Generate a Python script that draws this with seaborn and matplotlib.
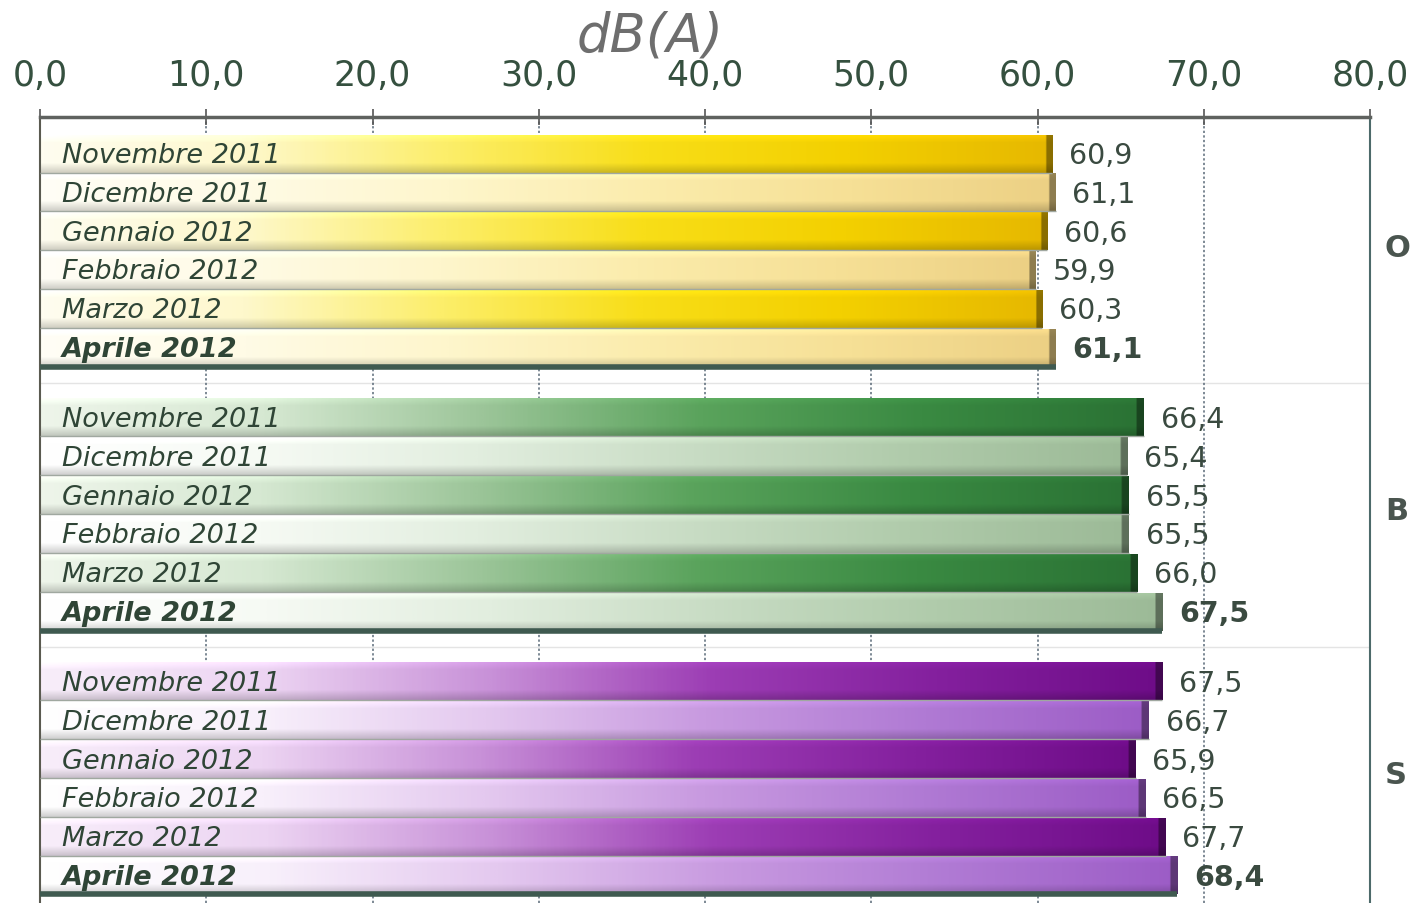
import numpy as np
import pandas as pd
import matplotlib.pyplot as plt
from matplotlib.colors import LinearSegmentedColormap
import seaborn as sns

# dati
mesi = ['Novembre 2011', 'Dicembre 2011', 'Gennaio 2012',
        'Febbraio 2012', 'Marzo 2012', 'Aprile 2012']
gruppi = ['O', 'B', 'S']
valori_o = [60.9, 61.1, 60.6, 59.9, 60.3, 61.1]
valori_b = [66.4, 65.4, 65.5, 65.5, 66.0, 67.5]
valori_s = [67.5, 66.7, 65.9, 66.5, 67.7, 68.4]
x_ticks = [0, 10, 20, 30, 40, 50, 60, 70, 80]

# colori sfumati (bianco -> colore), righe alterne piene / chiare
stops_pieni = {
    'O': ['#fffdf0', '#fef8cc', '#fcee6a', '#f8de18', '#f3d000', '#e6b800'],
    'B': ['#eef5ea', '#d6e8d2', '#9cc599', '#5aa35c', '#3a8a42', '#2a7234'],
    'S': ['#f8eefa', '#ecd4f2', '#c891d8', '#9c3db4', '#84209e', '#6e0c88'],
}
stops_chiari = {
    'O': ['#fffef6', '#fffbe6', '#fef6cc', '#fbecac', '#f6e096', '#ecd084'],
    'B': ['#ffffff', '#f6faf4', '#e2eedf', '#c8dcc4', '#b0cbab', '#9cba97'],
    'S': ['#ffffff', '#f8f0fb', '#e4c9ef', '#c89ae0', '#b07ad4', '#9c5cc6'],
}

passo_gruppo = 6.8
righe = []
for g, (nome, vals) in enumerate(zip(gruppi, [valori_o, valori_b, valori_s])):
    for i, (m, v) in enumerate(zip(mesi, vals)):
        righe.append({'gruppo': nome, 'mese': m, 'valore': v,
                      'riga': i, 'pos': g * passo_gruppo + i})
df = pd.DataFrame(righe)

sns.set_style('white')
plt.rcParams['font.family'] = ['DejaVu Sans']

fig = plt.figure(figsize=(14.13, 9.04), dpi=100)
ax = fig.add_axes([40 / 1413, 0.0, 1330 / 1413, 1 - 118 / 904])

sns.barplot(data=df, x='valore', y='pos', orient='h', native_scale=True,
            width=0.96, color='white', errorbar=None, ax=ax)

ylim = (19.3, -0.95)
xlim = (0, 80)

ombra = np.concatenate([np.linspace(1.07, 1.0, 6), np.ones(14), np.linspace(1.0, 0.82, 8)])
for p in list(ax.patches):
    x0, y0, w, h = p.get_x(), p.get_y(), p.get_width(), p.get_height()
    yc = y0 + h / 2
    r = df.iloc[(df['pos'] - yc).abs().argmin()]
    stops = stops_pieni if r['riga'] % 2 == 0 else stops_chiari
    cmap = LinearSegmentedColormap.from_list('g', stops[r['gruppo']])
    n = 600
    grad = cmap(np.linspace(0, 1, n))[:, :3]
    grad[-4:] *= 0.6
    img = np.clip(grad[None, :, :] * ombra[:, None, None], 0, 1)
    p.set_facecolor('none')
    p.set_edgecolor('none')
    ax.imshow(img, extent=[x0, x0 + w, y0 + h, y0], aspect='auto',
              interpolation='bilinear', zorder=2, clip_path=p)
    ultima = r['riga'] == 5
    ax.plot([x0, x0 + w], [y0 + h, y0 + h], color='#3f5a50' if ultima else '#a0a8a0',
            lw=4 if ultima else 1, zorder=3, solid_capstyle='butt')

    bold = 'bold' if ultima else 'normal'
    ax.text(1.3, yc + 0.03, r['mese'], ha='left', va='center', style='italic',
            fontsize=19.5, color='#2f4536', weight=bold, zorder=4)
    ax.text(r['valore'] + 1.0, yc + 0.03, f"{r['valore']:.1f}".replace('.', ','),
            ha='left', va='center', fontsize=20.5, color='#3a4a40', weight=bold, zorder=4)

for g, nome in enumerate(gruppi):
    ax.text(80.9, g * passo_gruppo + 2.4, nome, ha='left', va='center',
            fontsize=22, weight='bold', color='#4a554f', clip_on=False)
    if g < 2:
        ax.axhline(g * passo_gruppo + 5.9, color='#e4e4e4', lw=1, zorder=0)

ax.set_xlim(xlim)
ax.set_ylim(ylim)
ax.xaxis.tick_top()
ax.set_xticks(x_ticks)
ax.set_xticklabels([f"{t:.1f}".replace('.', ',') for t in x_ticks],
                   fontsize=25, color='#35503f')
ax.tick_params(axis='x', direction='inout', length=12, width=1.2, color='#555', pad=12)
ax.set_yticks([])
ax.set_xlabel('')
ax.set_ylabel('')
ax.grid(axis='x', linestyle=(0, (1.5, 1.5)), color='#5a6a78', lw=1.1)
ax.set_axisbelow(True)

ax.spines['top'].set_color('#5f625f')
ax.spines['top'].set_linewidth(2.5)
ax.spines['left'].set_color('#5a5a50')
ax.spines['left'].set_linewidth(1.5)
ax.spines['right'].set_color('#4d6a6a')
ax.spines['right'].set_linestyle((0, (1.5, 1)))
ax.spines['right'].set_linewidth(1.5)
ax.spines['bottom'].set_visible(False)

fig.text(650 / 1413, 1 - 36 / 904, 'dB(A)', ha='center', va='center',
         style='italic', fontsize=38, color='#6e6e6e')

fig.savefig('out.png', dpi=100, facecolor='white')
